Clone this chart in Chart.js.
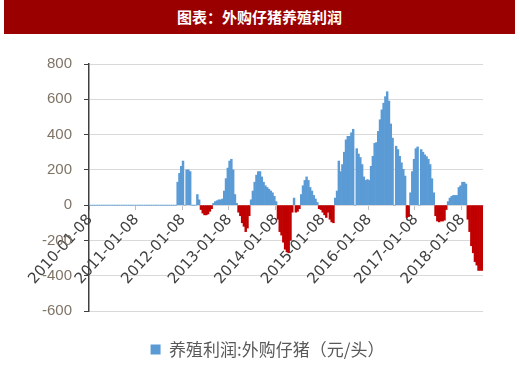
<!DOCTYPE html>
<html>
<head>
<meta charset="utf-8">
<script src="https://cdn.jsdelivr.net/npm/chart.js@4.4.1/dist/chart.umd.min.js"></script>
<style>
  body { margin: 0; background: #fff; }
  #bar {
    position: absolute; left: 4px; top: 0; width: 511px; height: 34px;
    background: #9a0000; color: #fff;
    font: bold 15px "Noto Sans CJK SC", sans-serif;
    text-align: center; line-height: 33px;
  }
  #myChart { position: absolute; left: 0; top: 34px; }
</style>
</head>
<body>
<div id="bar">图表：外购仔猪养殖利润</div>
<canvas id="myChart" width="520" height="334"></canvas>
<script>
// biweekly points, first one on 2010-01-08
const startDate = '2010-01-08';
const tickLabels = ['2010-01-08', '2011-01-08', '2012-01-08', '2013-01-08', '2014-01-08',
  '2015-01-08', '2016-01-08', '2017-01-08', '2018-01-08'];
const seriesName = '养殖利润:外购仔猪（元/头）';

// 元/头
const profit = [
  0, 0, 0, 0, 0, 0, 0, 0, 0, 0, 0, 0, 0, 0, 0, 0, 0, 0, 0, 0,
  0, 0, 0, 0, 0, 0, 0, 0, 0, 0, 0, 0, 0, 0, 0, 0, 0, 0, 0, 0,
  0, 0, 0, 0, 0, 0, 0, 0, 0,
  130, 180, 220, 250, 0, 200, 200, 190, 0, 0, 0, 60, 30,          // 2011-12 .. 2012
  -25, -45, -55, -55, -50, -35, -20,
  10, 20, 25, 30, 30, 35, 80, 150, 210, 250, 260, 200, 60, 10,    // 2012 .. 2013
  -40, -60, -100, -120, -150, -130, -60,
  30, 80, 130, 170, 190, 190, 160, 130, 110, 100, 90, 80, 70, 50, 20,
  -80, -150, -170, -210, -250, -265, -270, -200, -40,             // 2014 end
  40, -40, -35, -20,
  60, 110, 140, 160, 140, 100, 80, 55, 35, 15,                     // 2015
  -20, -25, -40, -55, -70, -40, -80, -95, -100,
  40, 80, 250, 190, 230, 300, 370, 390, 390, 410, 430, 0, 320, 290, 270, 230, 160, 140, 145,
  140, 220, 277, 350, 355, 418, 484, 540, 578, 615, 643, 590, 460, 380, 0, 334, 315, 277, 240, 203, 165,
  -70, -65,
  70, 190, 260, 320, 330, 0, 315, 300, 285, 275, 260, 230, 150, 70, // 2017
  -60, -90, -95, -90, -90, -85, -25,
  20, 40, 50, 55, 55, 55, 100, 110, 130, 130, 120,
  -80, -150, -230, -270, -320, -340, -370, -370, -370              // 2018
];

const BLUE = '#5b9bd5';
const RED = '#c00000';

const labels = [];
const d0 = new Date(startDate + 'T00:00:00Z');
for (let i = 0; i < profit.length; i++) {
  const d = new Date(d0.getTime() + i * 14 * 86400000);
  labels.push(d.toISOString().slice(0, 10));
}

// legend sits a bit right of the canvas centre in the original
const nudgeLegend = {
  id: 'nudgeLegend',
  afterLayout(chart) {
    chart.legend.left += 26;
    chart.legend.right += 26;
  }
};

const ctx = document.getElementById('myChart');
new Chart(ctx, {
  type: 'bar',
  data: {
    labels: labels,
    datasets: [{
      label: seriesName,
      data: profit,
      backgroundColor: c => (c.raw < 0 ? RED : BLUE),
      borderWidth: 0,
      barPercentage: 1,
      categoryPercentage: 1
    }]
  },
  plugins: [nudgeLegend],
  options: {
    responsive: false,
    animation: false,
    layout: { padding: { top: 30, right: 37, bottom: 0, left: 0 } },
    plugins: {
      tooltip: { enabled: false },
      legend: {
        position: 'bottom',
        labels: {
          padding: 30,
          boxWidth: 10,
          boxHeight: 10,
          color: '#595959',
          font: { family: '"Noto Sans CJK SC"', size: 17 },
          generateLabels: () => [{
            text: seriesName, fillStyle: BLUE, strokeStyle: BLUE,
            lineWidth: 0, hidden: false, datasetIndex: 0, fontColor: '#595959'
          }]
        }
      }
    },
    scales: {
      x: {
        position: { y: 0 },
        grid: {
          drawOnChartArea: false,
          tickLength: 4,
          color: c => (c.index % 26 === 0 ? '#bfbfbf' : 'rgba(0,0,0,0)')
        },
        border: { color: '#d9d9d9' },
        ticks: {
          autoSkip: false,
          minRotation: 48,
          maxRotation: 48,
          padding: 2,
          color: '#404040',
          font: { family: '"DejaVu Sans"', size: 15 },
          callback: (v, i) => (i % 26 === 0 ? tickLabels[i / 26] : '')
        }
      },
      y: {
        min: -600,
        max: 800,
        afterFit: s => { s.width = 89; },
        grid: { color: '#d9d9d9', tickColor: '#404040', tickLength: 5 },
        border: { color: '#404040', width: 1.5 },
        ticks: {
          stepSize: 200,
          padding: 12,
          color: '#7f7366',
          font: { family: '"Liberation Sans"', size: 15 }
        }
      }
    }
  }
});
</script>
</body>
</html>
